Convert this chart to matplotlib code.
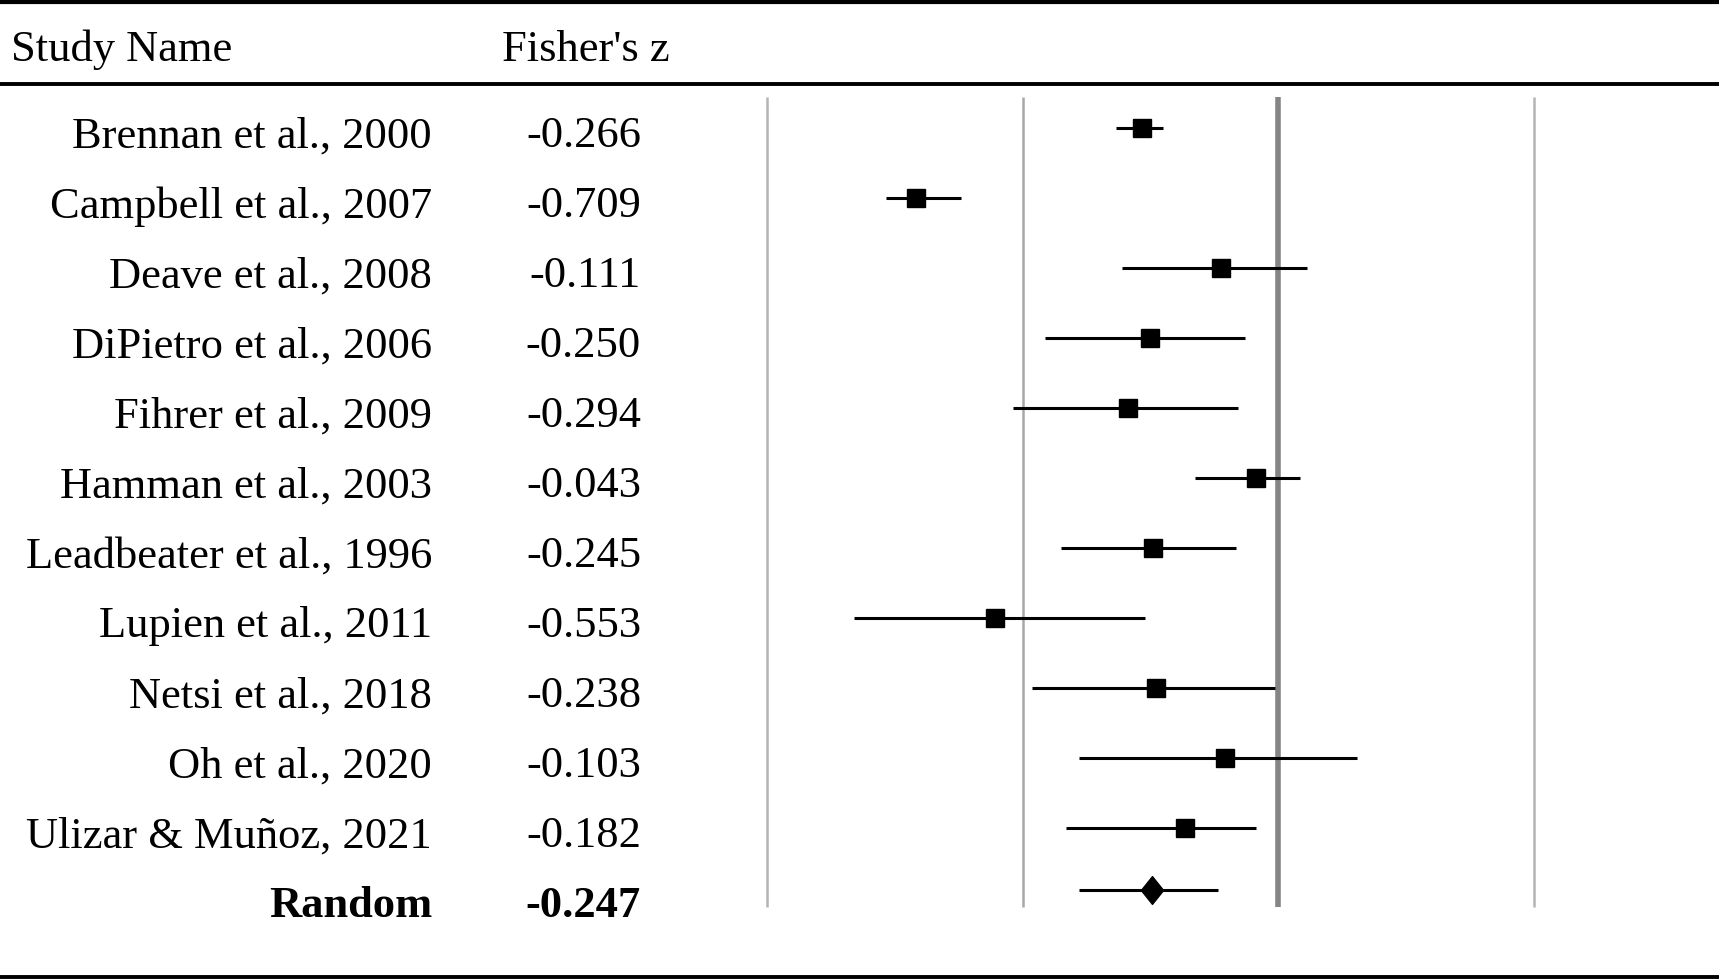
import matplotlib
matplotlib.use("Agg")
import matplotlib.pyplot as plt
import matplotlib.transforms as mtransforms
from matplotlib.lines import Line2D

# --- data ---
studies = ["Brennan et al., 2000", "Campbell et al., 2007", "Deave et al., 2008",
           "DiPietro et al., 2006", "Fihrer et al., 2009", "Hamman et al., 2003",
           "Leadbeater et al., 1996", "Lupien et al., 2011", "Netsi et al., 2018",
           "Oh et al., 2020", "Ulizar & Muñoz, 2021"]
fisher_z = [-0.266, -0.709, -0.111, -0.250, -0.294, -0.043, -0.245, -0.553, -0.238, -0.103, -0.182]
ci_low = [-0.317, -0.767, -0.305, -0.456, -0.519, -0.162, -0.425, -0.830, -0.481, -0.390, -0.415]
ci_high = [-0.225, -0.620, 0.056, -0.065, -0.079, 0.044, -0.083, -0.261, -0.006, 0.155, -0.044]
pooled_label = "Random"
pooled_z = -0.247
pooled_low, pooled_high = -0.390, -0.118
grid_x = [-1.0, -0.5, 0.0, 0.5]

plt.rcParams["font.family"] = ["Liberation Serif", "DejaVu Serif"]
FS = 32

fig = plt.figure(figsize=(17.19, 9.80), dpi=100)
W, H = 1719, 980
# axes covers the whole figure; 0 -> 1278 px, 511 px per unit; rows 70 px apart from 128 px
ax = fig.add_axes([0, 0, 1, 1])
ax.set_xlim((0 - 1278) / 511, (W - 1278) / 511)
ax.set_ylim((H - 128) / 70, -128 / 70)
ax.axis("off")

n = len(studies)
rows = list(range(n))

# vertical reference lines
for gx in grid_x:
    if gx == 0:
        ax.vlines(gx, -0.45, 11.13, color="#858585", lw=4.0, zorder=1)
    elif gx == -0.5:
        ax.vlines(gx, -0.45, 11.13, color="#a8a8a8", lw=1.8, zorder=1)
    else:
        ax.vlines(gx, -0.45, 11.13, color="#b4b4b4", lw=1.8, zorder=1)

# study CIs and point estimates
ax.hlines(rows, ci_low, ci_high, color="black", lw=2.2, zorder=2)
ax.plot(fisher_z, rows, "s", color="black", ms=12.5, zorder=3)

# pooled estimate
py = n - 0.11
ax.hlines(py, pooled_low, pooled_high, color="black", lw=2.2, zorder=2)
diamond = [(-0.8, 0), (0, 1), (0.8, 0), (0, -1), (-0.8, 0)]
ax.plot([pooled_z], [py], marker=diamond, color="black", ms=20, zorder=3, lw=0)

# table text
tr = mtransforms.blended_transform_factory(fig.transFigure, ax.transData)
ax.text(11 / W, -1.12, "Study Name", transform=tr, ha="left", va="center", fontsize=FS)
ax.text(502 / W, -1.12, "Fisher's z", transform=tr, ha="left", va="center", fontsize=FS)
for i, (name, z) in enumerate(zip(studies, fisher_z)):
    ax.text(432 / W, i + 0.12, name, transform=tr, ha="right", va="center", fontsize=FS)
    ax.text(641 / W, i + 0.12, f"{z:.3f}", transform=tr, ha="right", va="center", fontsize=FS)
ax.text(432 / W, n + 0.12, pooled_label, transform=tr, ha="right", va="center",
        fontsize=FS, fontweight="bold")
ax.text(641 / W, n + 0.12, f"{pooled_z:.3f}", transform=tr, ha="right", va="center",
        fontsize=FS, fontweight="bold")

# horizontal rules
for ypx, lw in [(2, 3.0), (84, 2.8), (977, 2.8)]:
    yf = 1 - ypx / H
    fig.add_artist(Line2D([0, 1], [yf, yf], color="black", lw=lw, transform=fig.transFigure))

fig.savefig("out.png", dpi=100)
